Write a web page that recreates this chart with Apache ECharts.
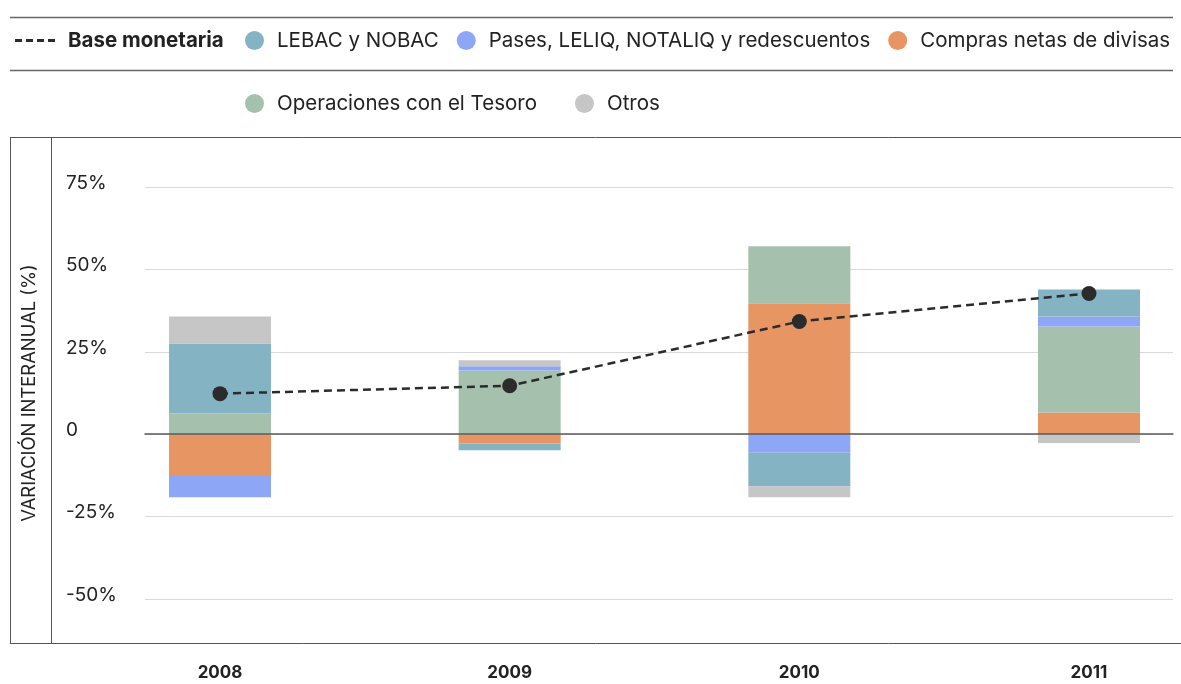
<!DOCTYPE html>
<html><head><meta charset="utf-8">
<script src="https://cdn.jsdelivr.net/npm/echarts@6/dist/echarts.min.js"></script>
<style>html,body{margin:0;padding:0;background:#fff}#c{width:1181px;height:684px}</style>
</head><body><div id="c"></div>
<script>
// ---- Data ----
const years = ['2008', '2009', '2010', '2011'];
const baseMonetaria = [12.3, 14.7, 34.2, 42.7];
const lebac = [21.2, -2.1, -10.3, 8.2];
const pases = [-6.7, 1.3, -5.6, 3.0];
const compras = [-12.4, -2.8, 39.7, 6.6];
const tesoro = [6.3, 19.3, 17.3, 26.1];
const otros = [8.2, 1.8, -3.2, -2.7];
const yTicks = [-50, -25, 0, 25, 50, 75];
const yTickLabels = ['-50%', '-25%', '0', '25%', '50%', '75%'];

const names = {
  base: 'Base monetaria',
  lebac: 'LEBAC y NOBAC',
  pases: 'Pases, LELIQ, NOTALIQ y redescuentos',
  compras: 'Compras netas de divisas',
  tesoro: 'Operaciones con el Tesoro',
  otros: 'Otros'
};
const colors = {
  lebac: '#84b4c4', pases: '#8ea6f6', compras: '#e69563', tesoro: '#a5c1ae', otros: '#c6c6c6', base: '#2b2b2b'
};
const FF = 'Inter, Roboto, "Noto Sans", sans-serif';
const TXT = '#222222';

const chart = echarts.init(document.getElementById('c'), null, { renderer: 'canvas' });

function barSeries(key, data) {
  return {
    type: 'bar', name: names[key], data: data, stack: 'total',
    xAxisIndex: 1, yAxisIndex: 1, barWidth: 102, clip: false,
    itemStyle: { color: colors[key] }, z: 2
  };
}

const legendText = { fontSize: 20.5, color: TXT, fontFamily: FF, padding: [0, 0, 0, 8] };

chart.setOption({
  animation: false,
  backgroundColor: '#ffffff',
  textStyle: { fontFamily: FF },
  legend: [
    {
      data: [{ name: names.base, icon: 'path://M0,0h7v3h-7z M11,0h7v3h-7z M22,0h7v3h-7z M33,0h7v3h-7z' }],
      left: 15, top: 30, padding: 0, itemWidth: 40, itemHeight: 3, selectedMode: false,
      textStyle: Object.assign({}, legendText, { fontWeight: 'bold', padding: [0, 0, 0, 8] })
    },
    {
      data: [names.lebac, names.pases, names.compras], icon: 'circle',
      left: 245, top: 30, padding: 0, itemWidth: 19, itemHeight: 19, itemGap: 18, selectedMode: false,
      textStyle: legendText
    },
    {
      data: [names.tesoro, names.otros], icon: 'circle',
      left: 245, top: 93, padding: 0, itemWidth: 19, itemHeight: 19, itemGap: 38, selectedMode: false,
      textStyle: legendText
    }
  ],
  grid: [
    { left: 145, width: 1028, top: 187, height: 412 },
    { left: 220, width: 869, top: 187, height: 412 }
  ],
  xAxis: [
    {
      type: 'category', gridIndex: 0, data: years, z: 5,
      axisLine: { show: true, onZero: true, lineStyle: { color: '#5a5a5a', width: 1.5 } },
      axisTick: { show: false }, axisLabel: { show: false }, splitLine: { show: false }
    },
    {
      type: 'category', gridIndex: 1, data: years, boundaryGap: false,
      axisLine: { show: false }, axisTick: { show: false }, splitLine: { show: false },
      axisLabel: { margin: 65, fontSize: 17, fontWeight: 'bold', color: TXT, fontFamily: FF }
    }
  ],
  yAxis: [
    {
      type: 'value', gridIndex: 0, min: -50, max: 75, interval: 25,
      name: 'VARIACIÓN INTERANUAL (%)', nameLocation: 'middle', nameGap: 107,
      nameTextStyle: { fontSize: 18.4, color: TXT, fontFamily: FF },
      axisLine: { show: false }, axisTick: { show: false },
      axisLabel: {
        align: 'left', margin: 79, fontSize: 19, color: TXT, fontFamily: FF,
        verticalAlign: 'bottom', lineHeight: 8,
        formatter: function (v) { const i = yTicks.indexOf(v); return i >= 0 ? yTickLabels[i] : ''; }
      },
      splitLine: { show: true, lineStyle: { color: '#d9d9d9', width: 1 } }
    },
    {
      type: 'value', gridIndex: 1, min: -50, max: 75, interval: 25,
      axisLine: { show: false }, axisTick: { show: false }, axisLabel: { show: false }, splitLine: { show: false }
    }
  ],
  series: [
    barSeries('compras', compras),
    barSeries('tesoro', tesoro),
    barSeries('pases', pases),
    barSeries('lebac', lebac),
    barSeries('otros', otros),
    {
      type: 'line', name: names.base, data: baseMonetaria, xAxisIndex: 1, yAxisIndex: 1,
      symbol: 'circle', symbolSize: 15, z: 10, clip: false,
      itemStyle: { color: colors.base, borderWidth: 0 },
      lineStyle: { color: colors.base, width: 2.5, type: [8, 5] }
    }
  ],
  graphic: [
    { type: 'line', shape: { x1: 10, y1: 17.5, x2: 1173, y2: 17.5 }, style: { stroke: '#666', lineWidth: 1.5 } },
    { type: 'line', shape: { x1: 10, y1: 70.5, x2: 1173, y2: 70.5 }, style: { stroke: '#666', lineWidth: 1.5 } },
    { type: 'line', shape: { x1: 10, y1: 137.5, x2: 1181, y2: 137.5 }, style: { stroke: '#555', lineWidth: 1 } },
    { type: 'line', shape: { x1: 10, y1: 643.5, x2: 1181, y2: 643.5 }, style: { stroke: '#555', lineWidth: 1 } },
    { type: 'line', shape: { x1: 10.5, y1: 137, x2: 10.5, y2: 644 }, style: { stroke: '#555', lineWidth: 1 } },
    { type: 'line', shape: { x1: 51.5, y1: 137, x2: 51.5, y2: 644 }, style: { stroke: '#555', lineWidth: 1 } }
  ]
});
</script>
</body></html>
